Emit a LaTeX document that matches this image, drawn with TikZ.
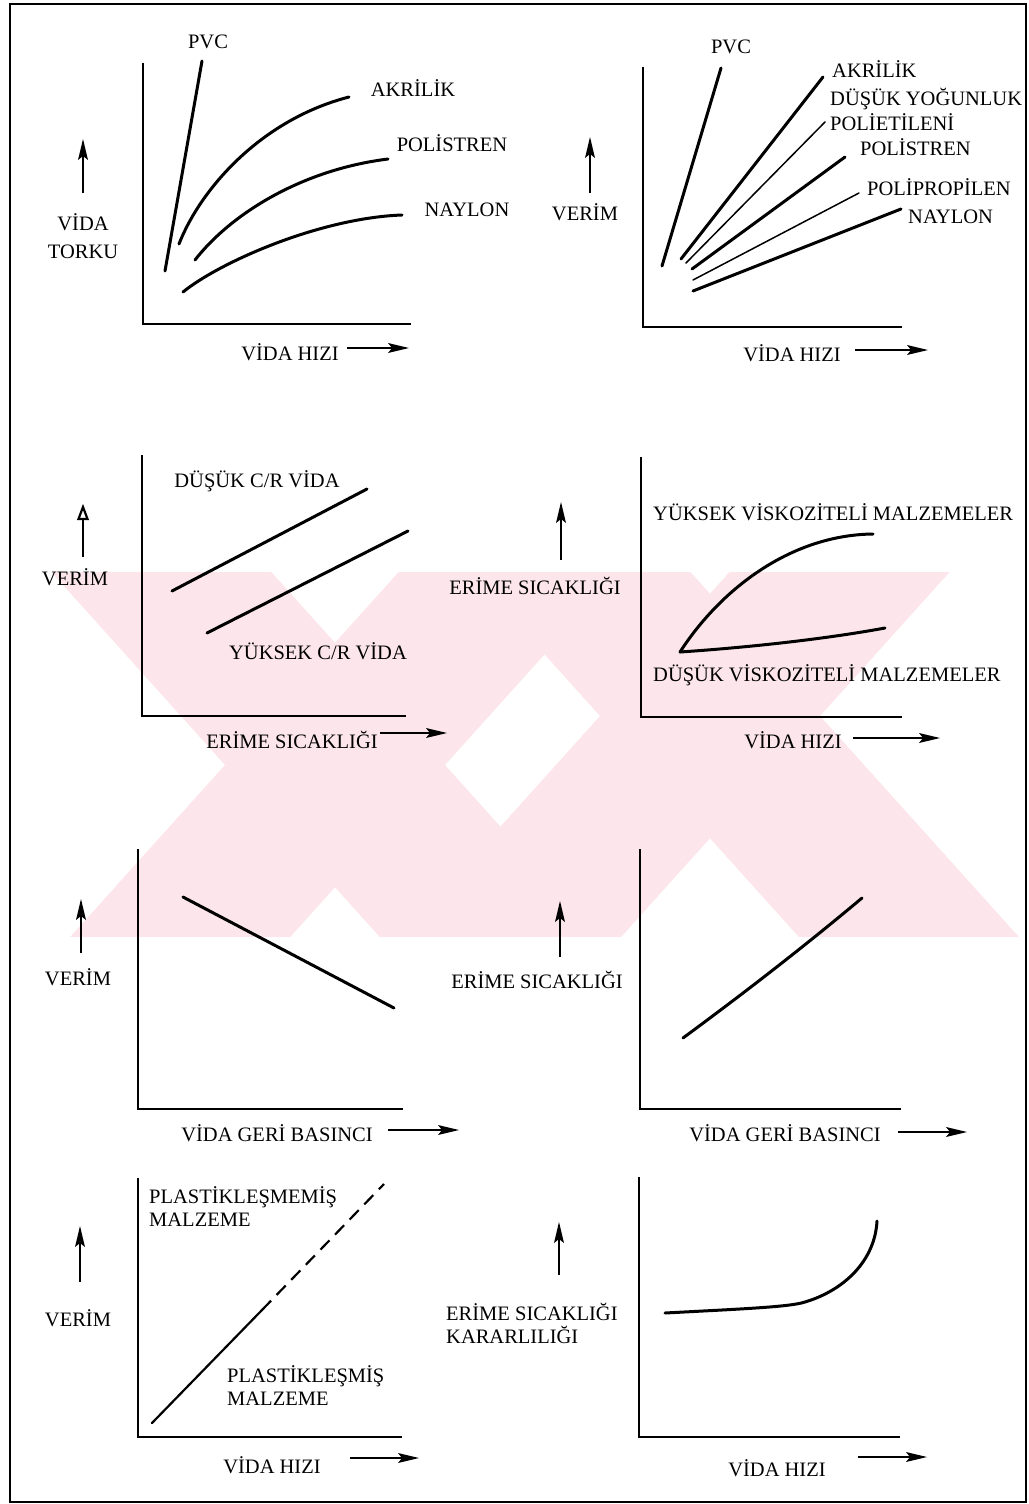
\documentclass[tikz,border=0pt]{standalone}
\usepackage{fontspec}
\setmainfont{Liberation Serif}
\usetikzlibrary{arrows.meta}
\definecolor{wmpink}{RGB}{252,230,235}

% filled arrow heads drawn at a tip coordinate
\newcommand\indup[1]{\fill (#1) -- ++(-5,21) -- ++(5,-4) -- ++(5,4) -- cycle;}
\newcommand\indright[1]{\fill (#1) -- ++(-21,-5) -- ++(4,5) -- ++(-4,5) -- cycle;}
% one cross of the emblem: centre x, centre y, half width of a stroke, slope (dx per dy)
\newcommand\emblemx[4]{%
  \fill[band] ({#1-#3-#4*260},{#2-260}) -- ({#1+#3-#4*260},{#2-260}) -- ({#1+#3+#4*260},{#2+260}) -- ({#1-#3+#4*260},{#2+260}) -- cycle;
  \fill[band] ({#1-#3+#4*260},{#2-260}) -- ({#1+#3+#4*260},{#2-260}) -- ({#1+#3-#4*260},{#2+260}) -- ({#1-#3-#4*260},{#2+260}) -- cycle;}

\begin{document}
\begin{tikzpicture}[x=1pt,y=-1pt,
  lbl/.style={inner sep=0pt, font=\fontsize{20.5}{23}\selectfont},
  axis/.style={line width=1.7pt},
  curve/.style={line width=3pt, line cap=round},
  thinline/.style={line width=1.5pt, line cap=round},
  shaft/.style={line width=1.6pt},
  band/.style={fill=wmpink},
]
\useasboundingbox (0,0) rectangle (1028,1504);
\fill[white] (0,0) rectangle (1028,1504);

% background emblem, seen through a horizontal strip
\begin{scope}
  \clip (12,572) rectangle (1024,936);
  \emblemx{335}{765}{110}{0.9}
  \emblemx{710}{716}{110}{0.9}
\end{scope}

% frame
\draw[line width=2pt] (10,4) rectangle (1026,1502);

% ---------- panel 1: screw torque ----------
\coordinate (p1o) at (143,324);
\draw[axis] (143,63) -- (p1o) -- (411,324);
\coordinate (p1pa) at (165,271); \coordinate (p1pb) at (202,61);
\draw[curve] (p1pa) -- (p1pb);
\coordinate (p1aa) at (179,244); \coordinate (p1ab) at (349,97);
\draw[curve] (p1aa) .. controls (200,190) and (260,120) .. (p1ab);
\coordinate (p1sa) at (195,260); \coordinate (p1sb) at (388,159);
\draw[curve] (p1sa) .. controls (230,215) and (300,170) .. (p1sb);
\coordinate (p1na) at (183,292); \coordinate (p1nb) at (402,215);
\draw[curve] (p1na) .. controls (220,262) and (320,218) .. (p1nb);
\node[lbl] (p1pvc) at (208,42) {PVC};
\node[lbl] (p1akr) at (413,88) {AKRİLİK};
\node[lbl] (p1pol) at (452,143) {POLİSTREN};
\node[lbl] (p1nay) at (467,210) {NAYLON};
\coordinate (p1ya) at (83,193); \coordinate (p1yb) at (83,139);
\draw[shaft] (p1ya) -- ([yshift=-10pt]p1yb); \indup{p1yb}
\node[lbl, align=center, font=\fontsize{20.5}{28}\selectfont] (p1y) at (83,236) {VİDA\\TORKU};
\node[lbl] (p1x) at (290,352) {VİDA HIZI};
\coordinate (p1xa) at (347,348); \coordinate (p1xb) at (409,348);
\draw[shaft] (p1xa) -- ([xshift=-10pt]p1xb); \indright{p1xb}

% ---------- panel 2: output vs screw speed ----------
\coordinate (p2o) at (643,327);
\draw[axis] (643,67) -- (p2o) -- (902,327);
\coordinate (p2pa) at (662,266); \coordinate (p2pb) at (721,68);
\draw[curve] (p2pa) -- (p2pb);
\coordinate (p2aa) at (681,259); \coordinate (p2ab) at (823,77);
\draw[curve] (p2aa) -- (p2ab);
\coordinate (p2la) at (686,263); \coordinate (p2lb) at (825,122);
\draw[thinline] (p2la) -- (p2lb);
\coordinate (p2sa) at (692,269); \coordinate (p2sb) at (845,157);
\draw[curve] (p2sa) -- (p2sb);
\coordinate (p2ra) at (693,280); \coordinate (p2rb) at (859,193);
\draw[thinline] (p2ra) -- (p2rb);
\coordinate (p2na) at (693,291); \coordinate (p2nb) at (901,209);
\draw[curve] (p2na) -- (p2nb);
\node[lbl] (p2pvc) at (731,47) {PVC};
\node[lbl, anchor=west] (p2akr) at (832,69) {AKRİLİK};
\node[lbl, anchor=west, align=left, font=\fontsize{20.5}{25}\selectfont] (p2ldpe) at (830,109.5) {DÜŞÜK YOĞUNLUK\\POLİETİLENİ};
\node[lbl, anchor=west] (p2pol) at (860,147) {POLİSTREN};
\node[lbl, anchor=west] (p2pp) at (867,187) {POLİPROPİLEN};
\node[lbl, anchor=west] (p2nay) at (908,217) {NAYLON};
\coordinate (p2ya) at (590,193); \coordinate (p2yb) at (590,137);
\draw[shaft] (p2ya) -- ([yshift=-10pt]p2yb); \indup{p2yb}
\node[lbl] (p2y) at (585,212) {VERİM};
\node[lbl] (p2x) at (792,353) {VİDA HIZI};
\coordinate (p2xa) at (855,350); \coordinate (p2xb) at (928,350);
\draw[shaft] (p2xa) -- ([xshift=-10pt]p2xb); \indright{p2xb}

% ---------- panel 3: output vs melt temperature ----------
\coordinate (p3o) at (142,716);
\draw[axis] (142,455) -- (p3o) -- (406,716);
\coordinate (p3da) at (172,591); \coordinate (p3db) at (367,489);
\draw[curve] (p3da) -- (p3db);
\coordinate (p3ya) at (207,633); \coordinate (p3yb) at (408,531);
\draw[curve] (p3ya) -- (p3yb);
\node[lbl] (p3low) at (257,481) {DÜŞÜK C/R VİDA};
\node[lbl] (p3high) at (318,651) {YÜKSEK C/R VİDA};
\coordinate (p3aa) at (83,557); \coordinate (p3ab) at (83,507);
\draw[shaft] (p3aa) -- ([yshift=-12pt]p3ab);
\draw[line width=2.2pt, line join=miter] (p3ab) -- ++(-4.5,12) -- ++(9,0) -- cycle;
\node[lbl] (p3y) at (75,577) {VERİM};
\node[lbl] (p3x) at (292,740) {ERİME SICAKLIĞI};
\coordinate (p3xa) at (380,733); \coordinate (p3xb) at (447,733);
\draw[shaft] (p3xa) -- ([xshift=-10pt]p3xb); \indright{p3xb}

% ---------- panel 4: melt temperature vs screw speed ----------
\coordinate (p4o) at (641,717);
\draw[axis] (641,457) -- (p4o) -- (902,717);
\coordinate (p4s) at (680,652);
\coordinate (p4hb) at (873,534); \coordinate (p4lb) at (885,628);
\draw[curve] (p4s) .. controls (720,590) and (790,535) .. (p4hb);
\draw[curve] (p4s) .. controls (740,648) and (820,640) .. (p4lb);
\node[lbl, anchor=west] (p4high) at (653,512) {YÜKSEK VİSKOZİTELİ MALZEMELER};
\node[lbl, anchor=west] (p4low) at (653,675) {DÜŞÜK VİSKOZİTELİ MALZEMELER};
\coordinate (p4aa) at (561,560); \coordinate (p4ab) at (561,502);
\draw[shaft] (p4aa) -- ([yshift=-10pt]p4ab); \indup{p4ab}
\node[lbl] (p4y) at (535,586) {ERİME SICAKLIĞI};
\node[lbl] (p4x) at (793,740) {VİDA HIZI};
\coordinate (p4xa) at (853,738); \coordinate (p4xb) at (940,738);
\draw[shaft] (p4xa) -- ([xshift=-10pt]p4xb); \indright{p4xb}

% ---------- panel 5: output vs back pressure ----------
\coordinate (p5o) at (138,1109);
\draw[axis] (138,849) -- (p5o) -- (403,1109);
\coordinate (p5la) at (183,897); \coordinate (p5lb) at (394,1008);
\draw[curve] (p5la) -- (p5lb);
\coordinate (p5aa) at (81,953); \coordinate (p5ab) at (81,899);
\draw[shaft] (p5aa) -- ([yshift=-10pt]p5ab); \indup{p5ab}
\node[lbl] (p5y) at (78,977) {VERİM};
\node[lbl] (p5x) at (277,1133) {VİDA GERİ BASINCI};
\coordinate (p5xa) at (388,1130); \coordinate (p5xb) at (459,1130);
\draw[shaft] (p5xa) -- ([xshift=-10pt]p5xb); \indright{p5xb}

% ---------- panel 6: melt temperature vs back pressure ----------
\coordinate (p6o) at (640,1109);
\draw[axis] (640,849) -- (p6o) -- (901,1109);
\coordinate (p6la) at (683,1038); \coordinate (p6lb) at (862,898);
\draw[curve] (p6la) .. controls (740,996) and (800,950) .. (p6lb);
\coordinate (p6aa) at (560,957); \coordinate (p6ab) at (560,901);
\draw[shaft] (p6aa) -- ([yshift=-10pt]p6ab); \indup{p6ab}
\node[lbl] (p6y) at (537,980) {ERİME SICAKLIĞI};
\node[lbl] (p6x) at (785,1133) {VİDA GERİ BASINCI};
\coordinate (p6xa) at (898,1132); \coordinate (p6xb) at (967,1132);
\draw[shaft] (p6xa) -- ([xshift=-10pt]p6xb); \indright{p6xb}

% ---------- panel 7: plasticised / unplasticised material ----------
\coordinate (p7o) at (138,1437);
\draw[axis] (138,1178) -- (p7o) -- (402,1437);
\coordinate (p7la) at (152,1423); \coordinate (p7lm) at (262,1310); \coordinate (p7lb) at (384,1184);
\draw[line width=2.2pt, line cap=round] (p7la) -- (p7lm);
\draw[line width=2.2pt, dash pattern=on 13pt off 8pt] (p7lm) -- (p7lb);
\node[lbl, anchor=west, align=left] (p7un) at (149,1206.5) {PLASTİKLEŞMEMİŞ\\MALZEME};
\node[lbl, anchor=west, align=left] (p7pl) at (227,1386) {PLASTİKLEŞMİŞ\\MALZEME};
\coordinate (p7aa) at (80,1282); \coordinate (p7ab) at (80,1226);
\draw[shaft] (p7aa) -- ([yshift=-10pt]p7ab); \indup{p7ab}
\node[lbl] (p7y) at (78,1318) {VERİM};
\node[lbl] (p7x) at (272,1465) {VİDA HIZI};
\coordinate (p7xa) at (350,1458); \coordinate (p7xb) at (419,1458);
\draw[shaft] (p7xa) -- ([xshift=-10pt]p7xb); \indright{p7xb}

% ---------- panel 8: melt temperature stability ----------
\coordinate (p8o) at (639,1437);
\draw[axis] (639,1177) -- (p8o) -- (900,1437);
\coordinate (p8a) at (665,1313); \coordinate (p8m) at (805,1302); \coordinate (p8b) at (877,1221);
\draw[curve] (p8a) .. controls (740,1309) and (790,1307) .. (p8m)
                  .. controls (845,1290) and (875,1260) .. (p8b);
\coordinate (p8aa) at (559,1275); \coordinate (p8ab) at (559,1222);
\draw[shaft] (p8aa) -- ([yshift=-10pt]p8ab); \indup{p8ab}
\node[lbl, anchor=west, align=left] (p8y) at (446,1323.5) {ERİME SICAKLIĞI\\KARARLILIĞI};
\node[lbl] (p8x) at (777,1468) {VİDA HIZI};
\coordinate (p8xa) at (858,1457); \coordinate (p8xb) at (927,1457);
\draw[shaft] (p8xa) -- ([xshift=-10pt]p8xb); \indright{p8xb}
\end{tikzpicture}
\end{document}
